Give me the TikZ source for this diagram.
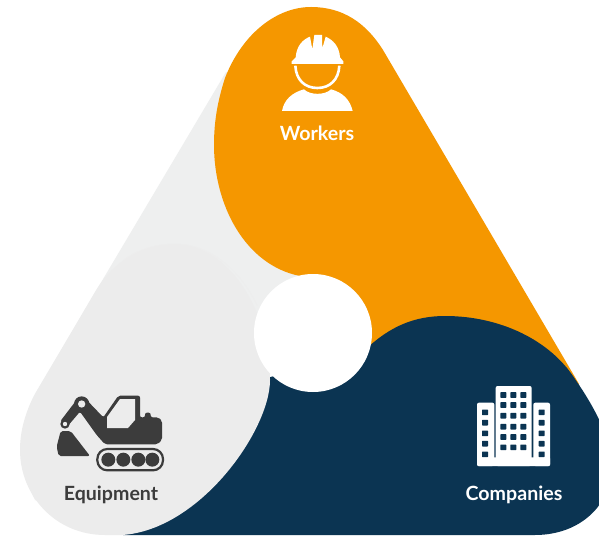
\documentclass[tikz,border=0pt]{standalone}
\usepackage{fontspec}
\setmainfont{Lato}
\definecolor{org}{HTML}{F59700}
\definecolor{navy}{HTML}{0B3452}
\definecolor{lgray}{HTML}{EEEFEF}
\definecolor{lobe}{HTML}{ECECEC}
\definecolor{ink}{HTML}{3C3C3C}
\tikzset{lab/.style={font=\bfseries\fontsize{19.6}{21}\selectfont,inner sep=0pt,anchor=center}}
\begin{document}
\begin{tikzpicture}[x=1pt,y=-1pt]
\useasboundingbox (0,0) rectangle (599,537);
\clip (0,0) rectangle (599,537);
\fill[white] (0,0) rectangle (599,537);
% pale triangle side
\fill[lgray] (226,72) -- (36,392) .. controls (20,420) and (15,460) .. (35,500) -- (130,535) -- (300,340) -- (300,120) -- cycle;
% orange lobe
\fill[org] (311,7) .. controls (343,7) and (366,23) .. (383,50) -- (579,384) -- (400,400) -- (313,340) -- (300,276)
  .. controls (245,265) and (214,205) .. (214,145) .. controls (214,120) and (218,100) .. (225,78) .. controls (243,32) and (278,7) .. (311,7) -- cycle;
% navy lobe
\fill[navy] (123,535) -- (535,535) .. controls (580,535) and (612,505) .. (612,465)
  .. controls (612,445) and (600,415) .. (575,379) .. controls (550,340) and (500,316) .. (445,316)
  .. controls (415,316) and (390,326) .. (365,350) -- (260,380) -- cycle;
% gray lobe
\fill[lobe] (175,244) .. controls (228,244) and (270,310) .. (270,380)
  .. controls (270,430) and (200,530) .. (122,535) -- (105,535) .. controls (55,535) and (20,495) .. (20,450)
  .. controls (20,428) and (27,408) .. (37,391) -- (95,292) .. controls (112,263) and (140,244) .. (175,244) -- cycle;
\draw[black!7,line width=.5pt] (125,259) .. controls (140,249) and (156,244) .. (175,244) .. controls (210,244) and (240,270) .. (257,305);
\node[circle,fill=white,minimum size=118pt,inner sep=0pt] (hub) at (313,333) {};
% worker icon
\begin{scope}[shift={(260,20)},scale=1/3]
\fill[white] (107,112) .. controls (110,75) and (130,58) .. (150,50) -- (157,88) -- (163,45) -- (186,45) -- (187,85) -- (197,50) .. controls (220,60) and (238,80) .. (240,112) -- (250,124) -- (250,132) -- (95,132) -- (95,124) -- cycle;
\draw[white,line width=2.6pt] (106,137) .. controls (108,180) and (135,204) .. (172,204) .. controls (209,204) and (236,180) .. (238,137);
\fill[white] (66,273) .. controls (72,240) and (95,218) .. (132,208) .. controls (150,226) and (195,226) .. (213,208) .. controls (250,218) and (270,240) .. (278,273) -- cycle;
\end{scope}
\node[lab,text=white] (workers) at (317,133.5) {Workers};
% excavator icon
\begin{scope}[shift={(40,380)},scale=1/3]
\fill[ink,rounded corners=2pt] (190,112) -- (235,47) -- (300,47) -- (300,112) -- (315,112) -- (315,98) -- (332,98) -- (332,112) -- (355,112) -- (366,122) -- (366,180) -- (352,193) -- (195,193) -- (170,165) -- (120,95) -- (80,142) -- (60,125) -- (108,62) -- (142,62) -- cycle;
\fill[lobe] (201,111) -- (240,57) -- (285,57) -- (285,120) -- (264,144) -- (201,144) -- cycle;
\fill[ink] (125,72) circle (23);
\fill[lobe] (125,72) circle (11);
\fill[ink] (75,132) circle (14);
\fill[lobe] (75,132) circle (6.5);
\fill[ink,rounded corners=2pt] (62,153) -- (92,153) -- (150,228) -- (56,228) -- (50,200) -- cycle;
\draw[ink,line width=2.2pt,rounded corners=10pt] (172,207) rectangle (369,271);
\foreach \cx in {205,250,295,337}{\fill[ink] (\cx,239) circle (21);}
\end{scope}
\node[lab,text=ink] (equip) at (111,494.5) {Equipment};
% building icon
\begin{scope}[shift={(450,370)},scale=1/3]
\fill[white,rounded corners=2pt] (81,98) rectangle (133,288);
\fill[white,rounded corners=2pt] (250,98) rectangle (300,288);
\fill[white,rounded corners=2pt] (137,48) rectangle (245,288);
\fill[white,rounded corners=1pt] (81,262) rectangle (300,288);
\foreach \cx in {160,190,220}{\foreach \cy in {75,105,137,170,201,232}{\fill[navy,rounded corners=.6pt] (\cx-9,\cy-8.5) rectangle (\cx+9,\cy+8.5);}}
\foreach \cx in {105,275}{\foreach \cy in {127,158,190,221,253}{\fill[navy,rounded corners=.6pt] (\cx-9,\cy-8.5) rectangle (\cx+9,\cy+8.5);}}
\end{scope}
\node[lab,text=white] (comp) at (514,495) {Companies};
\end{tikzpicture}
\end{document}
